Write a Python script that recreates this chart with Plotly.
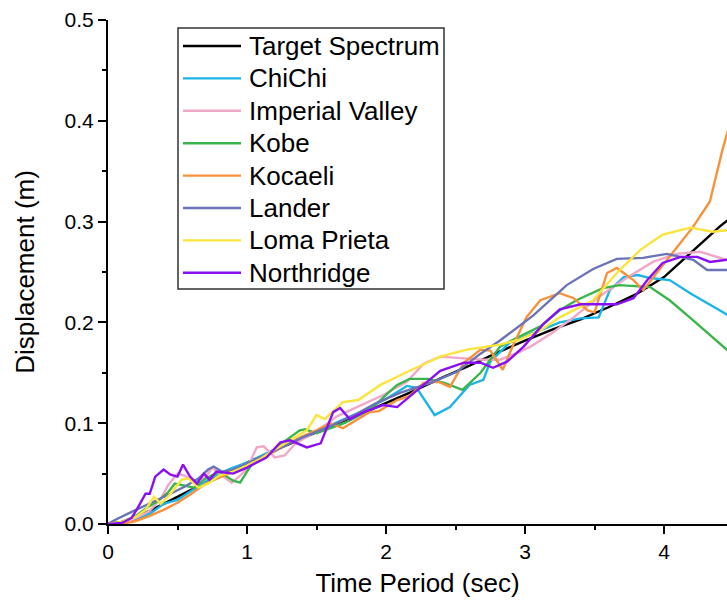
import plotly.graph_objects as go

# Displacement response spectra: target vs. scaled ground motions
target_t = [0, 0.1, 0.2, 0.3, 0.4, 0.5, 0.6, 0.7, 0.8, 1.0, 1.2, 1.4, 1.6, 1.8, 2.0, 2.2, 2.4,
            2.6, 2.8, 3.0, 3.2, 3.4, 3.6, 3.8, 4.0, 4.2, 4.4, 4.5]
target_d = [0, 0.002, 0.007, 0.013, 0.02, 0.027, 0.034, 0.041, 0.048, 0.061, 0.073, 0.085, 0.097,
            0.108, 0.12, 0.132, 0.145, 0.157, 0.17, 0.182, 0.193, 0.203, 0.215, 0.228, 0.245,
            0.27, 0.295, 0.306]

chichi_t = [0, 0.1, 0.2, 0.3, 0.4, 0.5, 0.6, 0.7, 0.8, 0.9, 1.0, 1.2, 1.4, 1.6, 1.8, 2.0, 2.15,
            2.22, 2.35, 2.46, 2.6, 2.7, 2.75, 2.89, 3.0, 3.11, 3.25, 3.4, 3.53, 3.61, 3.71, 3.81,
            3.9, 4.04, 4.2, 4.35, 4.5]
chichi_d = [0, 0.001, 0.004, 0.01, 0.02, 0.024, 0.033, 0.042, 0.05, 0.056, 0.061, 0.074, 0.086,
            0.098, 0.11, 0.124, 0.137, 0.135, 0.108, 0.116, 0.138, 0.143, 0.161, 0.18, 0.186,
            0.192, 0.2, 0.204, 0.205, 0.232, 0.245, 0.247, 0.244, 0.242, 0.228, 0.216, 0.204]

imperial_t = [0, 0.1, 0.2, 0.3, 0.38, 0.43, 0.5, 0.55, 0.62, 0.7, 0.75, 0.8, 0.89, 0.95, 1.0,
              1.07, 1.12, 1.2, 1.27, 1.35, 1.45, 1.55, 1.65, 1.79, 1.98, 2.15, 2.27, 2.39, 2.56,
              2.7, 2.82, 2.95, 3.04, 3.2, 3.35, 3.5, 3.6, 3.73, 3.92, 4.09, 4.26, 4.38, 4.5]
imperial_d = [0, 0.001, 0.006, 0.013, 0.025, 0.038, 0.05, 0.048, 0.043, 0.046, 0.056, 0.05,
              0.041, 0.048, 0.055, 0.076, 0.077, 0.066, 0.068, 0.08, 0.088, 0.097, 0.107, 0.116,
              0.128, 0.141, 0.159, 0.166, 0.164, 0.163, 0.163, 0.17, 0.176, 0.19, 0.205, 0.222,
              0.232, 0.244, 0.26, 0.268, 0.27, 0.265, 0.26]

kobe_t = [0, 0.1, 0.2, 0.3, 0.35, 0.43, 0.48, 0.55, 0.62, 0.7, 0.8, 0.9, 0.95, 1.0, 1.05, 1.15,
          1.25, 1.38, 1.42, 1.5, 1.6, 1.7, 1.81, 1.9, 2.0, 2.08, 2.17, 2.3, 2.42, 2.55, 2.68,
          2.82, 2.96, 3.11, 3.25, 3.37, 3.56, 3.68, 3.9, 4.04, 4.21, 4.45, 4.5]
kobe_d = [0, 0.002, 0.008, 0.018, 0.022, 0.031, 0.04, 0.038, 0.036, 0.045, 0.052, 0.043, 0.041,
          0.052, 0.062, 0.068, 0.08, 0.093, 0.094, 0.09, 0.095, 0.1, 0.108, 0.115, 0.128, 0.138,
          0.144, 0.144, 0.14, 0.133, 0.15, 0.176, 0.186, 0.196, 0.212, 0.222, 0.234, 0.237,
          0.235, 0.222, 0.202, 0.173, 0.167]

kocaeli_t = [0, 0.1, 0.2, 0.3, 0.4, 0.5, 0.6, 0.7, 0.8, 0.9, 1.0, 1.1, 1.2, 1.3, 1.4, 1.5, 1.6,
             1.69, 1.78, 1.88, 1.95, 2.08, 2.17, 2.27, 2.38, 2.46, 2.56, 2.68, 2.75, 2.84, 2.91,
             3.01, 3.11, 3.25, 3.35, 3.45, 3.5, 3.52, 3.59, 3.66, 3.78, 3.85, 4.06, 4.21, 4.33,
             4.42, 4.5]
kocaeli_d = [0, 0.0, 0.003, 0.008, 0.014, 0.021, 0.03, 0.04, 0.046, 0.052, 0.06, 0.066, 0.072,
             0.08, 0.087, 0.093, 0.1, 0.095, 0.103, 0.111, 0.112, 0.123, 0.127, 0.14, 0.141,
             0.136, 0.16, 0.173, 0.172, 0.153, 0.176, 0.205, 0.222, 0.229, 0.224, 0.212, 0.21,
             0.219, 0.249, 0.254, 0.242, 0.232, 0.269, 0.295, 0.32, 0.371, 0.41]

lander_t = [0, 0.05, 0.17, 0.25, 0.35, 0.45, 0.55, 0.65, 0.72, 0.76, 0.82, 0.9, 1.0, 1.2, 1.4,
            1.6, 1.8, 1.93, 2.1, 2.32, 2.51, 2.68, 2.82, 3.06, 3.3, 3.49, 3.66, 3.85, 4.02, 4.21,
            4.31, 4.5]
lander_d = [0, 0.004, 0.012, 0.017, 0.024, 0.03, 0.037, 0.045, 0.054, 0.057, 0.052, 0.054, 0.06,
            0.073, 0.086, 0.097, 0.11, 0.12, 0.13, 0.14, 0.151, 0.169, 0.182, 0.207, 0.237,
            0.253, 0.263, 0.264, 0.268, 0.262, 0.252, 0.252]

loma_t = [0, 0.1, 0.2, 0.27, 0.33, 0.38, 0.45, 0.53, 0.58, 0.65, 0.72, 0.8, 0.9, 1.0, 1.1, 1.2,
          1.3, 1.43, 1.5, 1.56, 1.62, 1.69, 1.8, 1.96, 2.17, 2.39, 2.58, 2.82, 2.96, 3.11, 3.25,
          3.35, 3.49, 3.66, 3.83, 3.99, 4.19, 4.35, 4.5]
loma_d = [0, 0.002, 0.007, 0.014, 0.027, 0.02, 0.03, 0.044, 0.045, 0.036, 0.04, 0.048, 0.052,
          0.058, 0.065, 0.074, 0.082, 0.093, 0.108, 0.104, 0.112, 0.121, 0.123, 0.138, 0.152,
          0.166, 0.173, 0.178, 0.183, 0.192, 0.205, 0.212, 0.222, 0.249, 0.272, 0.287, 0.294,
          0.29, 0.292]

northridge_t = [0, 0.1, 0.17, 0.21, 0.27, 0.3, 0.34, 0.4, 0.45, 0.5, 0.54, 0.59, 0.64, 0.69,
                0.73, 0.78, 0.9, 1.0, 1.14, 1.24, 1.31, 1.43, 1.53, 1.62, 1.67, 1.74, 1.84, 1.98,
                2.08, 2.22, 2.39, 2.56, 2.68, 2.77, 2.87, 2.99, 3.13, 3.25, 3.4, 3.66, 3.78, 3.88,
                3.99, 4.12, 4.24, 4.33, 4.5]
northridge_d = [0, 0.001, 0.006, 0.015, 0.03, 0.03, 0.047, 0.054, 0.049, 0.047, 0.059, 0.047,
                0.04, 0.05, 0.044, 0.052, 0.05, 0.056, 0.066, 0.081, 0.083, 0.076, 0.08, 0.111,
                0.115, 0.104, 0.111, 0.118, 0.116, 0.132, 0.152, 0.16, 0.16, 0.155, 0.161, 0.176,
                0.198, 0.213, 0.218, 0.218, 0.224, 0.242, 0.259, 0.265, 0.265, 0.26, 0.263]

series_names = ["Target Spectrum", "ChiChi", "Imperial Valley", "Kobe", "Kocaeli", "Lander",
                "Loma Prieta", "Northridge"]
series_t = [target_t, chichi_t, imperial_t, kobe_t, kocaeli_t, lander_t, loma_t, northridge_t]
series_d = [target_d, chichi_d, imperial_d, kobe_d, kocaeli_d, lander_d, loma_d, northridge_d]
series_colors = ["#000000", "#1cb4e8", "#f0a7c8", "#3ab54a", "#f7913a", "#6a74b6", "#fbe43c",
                 "#8a0ff2"]

FONT = "Liberation Sans, Arial, sans-serif"
W, H = 727, 604
M_L, M_R, M_T, M_B = 108, 0, 20, 80
PLOT_W, PLOT_H = W - M_L - M_R, H - M_T - M_B

fig = go.Figure()
for name, t, d, color in zip(series_names, series_t, series_d, series_colors):
    fig.add_trace(go.Scatter(x=t, y=d, mode="lines", name=name, showlegend=False,
                             line=dict(color=color, width=2.4)))


def px_to_paper(px, py):
    """Convert page pixels to paper coordinates of the plotting area."""
    return (px - M_L) / PLOT_W, (H - M_B - py) / PLOT_H


# Boxed legend drawn in the upper left of the plotting area
box_l, box_t, box_r, box_b = 178, 28, 444, 289
row0, row_gap = 46, 32.4
x0, y0 = px_to_paper(box_l, box_b)
x1, y1 = px_to_paper(box_r, box_t)
shapes = [dict(type="rect", xref="paper", yref="paper", x0=x0, y0=y0, x1=x1, y1=y1,
               line=dict(color="#333333", width=1.5), fillcolor="white", layer="above")]
annotations = []
for i, (name, color) in enumerate(zip(series_names, series_colors)):
    ry = row0 + i * row_gap
    lx0, ly = px_to_paper(183, ry)
    lx1, _ = px_to_paper(241, ry)
    tx, _ = px_to_paper(247, ry)
    shapes.append(dict(type="line", xref="paper", yref="paper", x0=lx0, x1=lx1, y0=ly, y1=ly,
                       line=dict(color=color, width=2.4), layer="above"))
    annotations.append(dict(xref="paper", yref="paper", x=tx, y=ly, xanchor="left",
                            yanchor="middle", text=name, showarrow=False,
                            font=dict(family=FONT, size=26, color="black")))

axis_common = dict(
    showline=True, linecolor="black", linewidth=2,
    ticks="outside", ticklen=8, tickwidth=2, tickcolor="black",
    showgrid=False, zeroline=False, mirror=False,
    tickfont=dict(family=FONT, size=21, color="black"),
)

fig.update_xaxes(
    range=[0, 4.453], tick0=0, dtick=1,
    minor=dict(ticks="outside", ticklen=4, tickwidth=2, tickcolor="black", dtick=0.5),
    title=dict(text="Time Period (sec)", font=dict(family=FONT, size=26, color="black"),
               standoff=12),
    **axis_common,
)
fig.update_yaxes(
    range=[0, 0.5], tick0=0, dtick=0.1, tickformat=".1f",
    minor=dict(ticks="outside", ticklen=4, tickwidth=2, tickcolor="black", dtick=0.05),
    title=dict(text="Displacement (m)", font=dict(family=FONT, size=26, color="black"),
               standoff=22),
    **axis_common,
)

fig.update_layout(
    width=W, height=H,
    margin=dict(l=M_L, r=M_R, t=M_T, b=M_B),
    plot_bgcolor="white", paper_bgcolor="white",
    font=dict(family=FONT, color="black"),
    shapes=shapes, annotations=annotations,
    showlegend=False,
)

fig.write_html("out.html")
